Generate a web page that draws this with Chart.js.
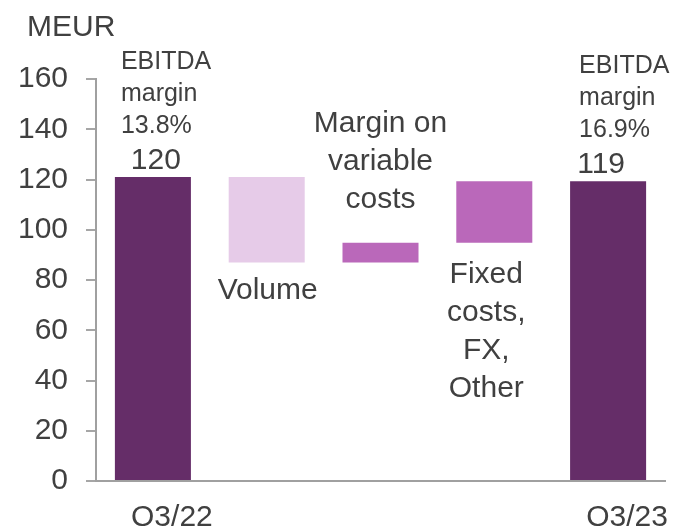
<!DOCTYPE html>
<html>
<head>
<meta charset="utf-8">
<script src="https://cdn.jsdelivr.net/npm/chart.js@4"></script>
<style>
  html, body { margin: 0; padding: 0; background: #fff; }
  #wrap { width: 679px; height: 526px; }
</style>
</head>
<body>
<div id="wrap"><canvas id="bridgeChart" width="679" height="526"></canvas></div>
<script>
// EBITDA bridge, MEUR
const categories = ['Q3/22', 'Volume', 'Margin on variable costs', 'Fixed costs, FX, Other', 'Q3/23'];
const tickLabels = ['Q3/22', '', '', '', 'Q3/23'];
const barStarts = [0, 87, 87, 94.8, 0];
const barEnds = [121, 121, 94.8, 119.3, 119.3];
const barColors = ['#652d68', '#e6cbe8', '#ba68ba', '#ba68ba', '#652d68'];
const valueLabels = ['120', '', '', '', '119'];
const marginLabels = [['EBITDA', 'margin', '13.8%'], [], [], [], ['EBITDA', 'margin', '16.9%']];
const stepLabels = [[], ['Volume'], ['Margin on', 'variable', 'costs'], ['Fixed', 'costs,', 'FX,', 'Other'], []];
const yTicks = [0, 20, 40, 60, 80, 100, 120, 140, 160];

const FONT = '"Liberation Sans", Arial, sans-serif';
const TEXT = '#404040';

// texts around the bars, placed from the scales
const labelPlugin = {
    id: 'bridgeLabels',
    afterDatasetsDraw(chart) {
        const ctx = chart.ctx;
        const x = chart.scales.x;
        const y = chart.scales.y;
        ctx.save();
        ctx.fillStyle = TEXT;

        ctx.font = '30px ' + FONT;
        ctx.textAlign = 'left';
        ctx.textBaseline = 'alphabetic';
        ctx.fillText('MEUR', 27, 36);

        categories.forEach((cat, i) => {
            const cx = x.getPixelForValue(i);
            const top = y.getPixelForValue(barEnds[i]);
            const bottom = y.getPixelForValue(barStarts[i]);

            // EBITDA margin
            if (marginLabels[i].length) {
                ctx.font = '25px ' + FONT;
                ctx.textAlign = 'left';
                const lx = i === 0 ? cx - 32 : cx - 29;
                marginLabels[i].forEach((t, k) => ctx.fillText(t, lx, top - 108 + k * 32));
            }
            // total value
            if (valueLabels[i]) {
                ctx.font = '30px ' + FONT;
                ctx.textAlign = 'center';
                const vx = i === 0 ? cx + 3 : cx - 7;
                ctx.fillText(valueLabels[i], vx, top - 8);
            }
            // step names
            const lines = stepLabels[i];
            if (lines.length) {
                ctx.font = '30px ' + FONT;
                ctx.textAlign = 'center';
                if (i === 1) {
                    ctx.fillText(lines[0], cx + 1, bottom + 37);
                } else if (i === 2) {
                    lines.forEach((t, k) => ctx.fillText(t, cx, top - 35 - (lines.length - 1 - k) * 38));
                } else {
                    lines.forEach((t, k) => ctx.fillText(t, cx - 8, bottom + 40 + k * 38));
                }
            }
        });
        ctx.restore();
    }
};

new Chart(document.getElementById('bridgeChart'), {
    type: 'bar',
    data: {
        labels: categories,
        datasets: [{
            data: categories.map((c, i) => [barStarts[i], barEnds[i]]),
            backgroundColor: barColors,
            borderWidth: 0,
            barPercentage: 0.668,
            categoryPercentage: 1
        }]
    },
    options: {
        responsive: false,
        animation: false,
        layout: { padding: { top: 79, right: 14, left: 0, bottom: 0 } },
        plugins: {
            legend: { display: false },
            tooltip: { enabled: false }
        },
        scales: {
            x: {
                grid: { display: false },
                border: { display: true, color: '#a0a0a0', width: 2 },
                ticks: {
                    callback: (v, i) => tickLabels[i],
                    color: TEXT,
                    font: { family: FONT, size: 30 },
                    padding: 11,
                    labelOffset: 19,
                    maxRotation: 0,
                    autoSkip: false
                },
                afterFit: s => { s.height = 45; }
            },
            y: {
                min: 0,
                max: 160,
                afterBuildTicks: s => { s.ticks = yTicks.map(v => ({ value: v })); },
                grid: {
                    drawOnChartArea: false,
                    drawTicks: true,
                    tickLength: 10,
                    color: '#a6a6a6',
                    lineWidth: 2
                },
                border: { display: true, color: '#a0a0a0', width: 2 },
                ticks: {
                    color: TEXT,
                    font: { family: FONT, size: 30 },
                    padding: 18
                },
                afterFit: s => { s.width = 96; }
            }
        }
    },
    plugins: [labelPlugin]
});
</script>
</body>
</html>
